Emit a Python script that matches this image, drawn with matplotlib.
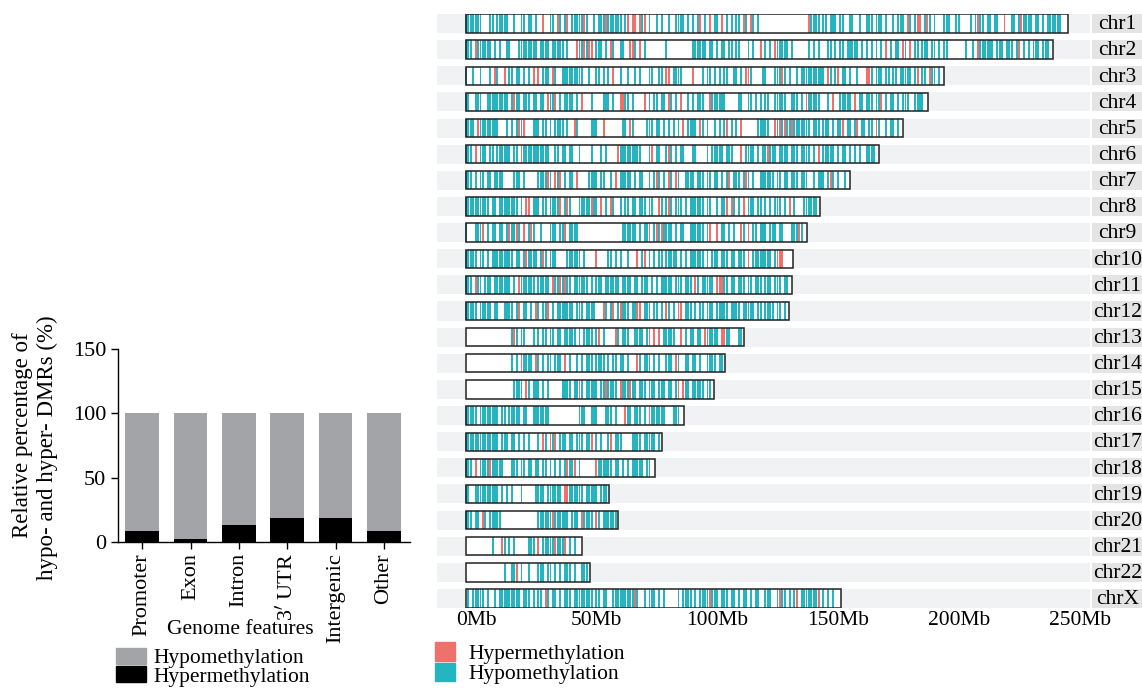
import matplotlib
matplotlib.use("Agg")
import matplotlib.pyplot as plt
import matplotlib.transforms as mtransforms
from matplotlib.patches import Rectangle, Patch

plt.rcParams['font.family'] = ['Liberation Serif', 'DejaVu Serif']
plt.rcParams['font.size'] = 15.5

# ---- left panel data: % of DMRs per genome feature
features = ['Promoter', 'Exon', 'Intron', "3$'$ UTR", 'Intergenic', 'Other']
hyper_pct = [8.3, 2.6, 12.9, 18.6, 18.6, 8.3]
hypo_pct = [100 - v for v in hyper_pct]

# ---- right panel data: chromosome lengths (Mb) and DMR positions (Mb)
chroms = ['chr1', 'chr2', 'chr3', 'chr4', 'chr5', 'chr6', 'chr7', 'chr8', 'chr9', 'chr10',
          'chr11', 'chr12', 'chr13', 'chr14', 'chr15', 'chr16', 'chr17', 'chr18', 'chr19',
          'chr20', 'chr21', 'chr22', 'chrX']
chrom_len = [249.3, 243.2, 198.0, 191.2, 180.9, 171.1, 159.1, 146.4, 141.2, 135.5, 135.0,
             133.9, 115.2, 107.3, 102.5, 90.4, 81.2, 78.1, 59.1, 63.0, 48.1, 51.3, 155.3]

chr1_hypo = [0, 1, 2, 3, 4, 5, 6, 10, 11, 13, 14, 15, 16, 17, 20, 23, 24, 26, 27, 29, 35, 36, 39, 41,
             44, 45, 46, 47, 48, 50, 53, 55, 56, 57, 59, 60, 61, 62, 63, 64, 66, 73, 76, 79, 81, 84,
             87, 88, 89, 90, 92, 94, 96, 99, 103, 104, 108, 110, 112, 113, 116, 119, 121, 143, 144,
             145, 146, 148, 149, 151, 152, 153, 155, 156, 159, 160, 163, 166, 167, 168, 170, 171,
             172, 174, 177, 179, 180, 181, 184, 186, 190, 192, 194, 198, 199, 200, 203, 204, 209,
             211, 213, 214, 216, 217, 219, 220, 226, 227, 229, 231, 232, 233, 234, 236, 237, 239,
             241, 242, 243, 244, 245, 246]
chr1_hyper = [32, 38, 42, 49, 58, 67, 69, 70, 72, 74, 97, 101, 106, 115, 118, 142, 183, 187, 188,
              191, 212, 223, 230]
chr2_hypo = [0, 1, 2, 5, 6, 7, 8, 9, 10, 12, 14, 17, 18, 22, 23, 24, 25, 26, 27, 28, 29, 31, 32, 33,
             34, 36, 37, 38, 39, 40, 42, 47, 48, 50, 54, 55, 56, 58, 61, 64, 65, 70, 74, 83, 94, 95,
             96, 97, 98, 99, 101, 102, 104, 106, 107, 109, 110, 112, 113, 117, 119, 124, 126, 129,
             130, 131, 132, 133, 135, 142, 144, 146, 150, 151, 153, 155, 156, 158, 159, 160, 161,
             162, 164, 166, 168, 170, 172, 176, 178, 179, 182, 186, 187, 189, 190, 191, 193, 194,
             196, 198, 199, 207, 210, 213, 214, 215, 216, 217, 218, 220, 221, 222, 224, 225, 226,
             228, 231, 233, 235, 236, 237, 239, 240, 241]
chr2_hyper = [4, 46, 49, 51, 52, 60, 68, 69, 72, 122, 128, 174, 181, 184, 212, 229]
chr3_hypo = [0, 3, 6, 10, 13, 18, 19, 21, 22, 24, 26, 32, 33, 34, 37, 40, 41, 42, 43, 44, 45, 46,
             47, 48, 51, 54, 55, 57, 59, 64, 67, 70, 72, 76, 77, 80, 81, 86, 87, 88, 89, 98, 100,
             101, 103, 105, 107, 108, 111, 112, 114, 118, 123, 124, 128, 129, 130, 132, 134, 137,
             139, 140, 141, 142, 143, 144, 145, 146, 147, 148, 151, 153, 156, 157, 159, 162, 168,
             170, 171, 172, 174, 175, 177, 178, 180, 181, 182, 183, 184, 186, 189, 190, 193, 194, 196]
chr3_hyper = [12, 16, 28, 30, 36, 61, 83, 84, 94, 116, 117, 131, 150, 154, 166, 167, 187, 192]
chr4_hypo = [0, 1, 4, 5, 6, 9, 10, 11, 12, 13, 14, 15, 16, 17, 19, 21, 22, 24, 25, 26, 28, 29, 31,
             32, 35, 36, 39, 41, 42, 43, 44, 46, 52, 57, 58, 59, 61, 66, 67, 69, 76, 78, 79, 81, 82,
             85, 87, 92, 94, 96, 97, 98, 102, 103, 104, 105, 106, 107, 113, 114, 117, 118, 120, 122,
             124, 125, 128, 129, 130, 131, 132, 135, 136, 137, 139, 142, 143, 144, 145, 146, 150,
             155, 156, 157, 158, 159, 163, 164, 166, 167, 168, 170, 171, 174, 176, 177, 179, 181,
             182, 183, 186, 187, 188, 189]
chr4_hyper = [20, 34, 37, 48, 64, 65, 74, 84, 89, 101, 141, 152, 161, 172]
chr5_hypo = [0, 1, 2, 3, 6, 7, 8, 9, 10, 11, 12, 13, 17, 19, 21, 23, 28, 29, 30, 32, 33, 35, 37, 38,
             39, 40, 42, 46, 52, 53, 54, 65, 66, 69, 75, 76, 77, 79, 80, 82, 84, 86, 88, 92, 93, 94,
             95, 98, 100, 103, 105, 107, 110, 112, 121, 122, 123, 124, 125, 129, 131, 133, 134,
             136, 137, 138, 139, 140, 141, 142, 144, 145, 146, 148, 149, 150, 152, 154, 155, 158,
             159, 161, 164, 165, 167, 168, 171, 174, 176, 177, 179]
chr5_hyper = [5, 22, 24, 45, 57, 68, 90, 97, 108, 114, 128, 130, 132, 135, 156, 162, 170]
chr6_hypo = [0, 1, 2, 4, 6, 7, 8, 10, 11, 13, 14, 15, 16, 17, 18, 20, 21, 24, 25, 26, 27, 28, 29,
             30, 31, 32, 33, 34, 37, 38, 40, 41, 43, 44, 47, 52, 56, 58, 64, 65, 66, 67, 68, 69, 70,
             71, 72, 76, 79, 80, 83, 85, 87, 89, 90, 94, 95, 100, 102, 103, 104, 105, 106, 108, 109,
             110, 116, 117, 118, 119, 121, 123, 124, 126, 127, 128, 130, 131, 132, 133, 135, 136,
             137, 139, 140, 141, 142, 144, 148, 149, 150, 151, 152, 154, 156, 157, 159, 161, 163,
             166, 167, 168, 169]
chr6_hyper = [4, 23, 63, 77, 84, 114, 125, 146]
chr7_hypo = [0, 1, 2, 4, 6, 7, 9, 10, 12, 13, 14, 15, 20, 21, 22, 24, 30, 31, 32, 33, 35, 38, 41, 43,
             44, 51, 52, 53, 54, 56, 57, 60, 64, 65, 66, 67, 68, 70, 72, 73, 76, 78, 80, 82, 85, 88,
             91, 92, 93, 94, 96, 97, 98, 100, 101, 103, 104, 106, 108, 111, 112, 113, 115, 117, 119,
             122, 123, 124, 125, 126, 127, 129, 130, 132, 133, 135, 136, 137, 139, 140, 141, 144,
             146, 147, 148, 150, 152, 154, 157]
chr7_hyper = [34, 37, 39, 46, 62, 79, 84, 87, 109, 116, 151]
chr8_hypo = [0, 1, 2, 3, 4, 5, 6, 7, 8, 9, 11, 12, 14, 15, 16, 17, 18, 19, 20, 21, 23, 26, 28, 29,
             30, 32, 33, 35, 36, 37, 38, 41, 43, 47, 48, 49, 50, 51, 53, 54, 56, 58, 61, 64, 66, 67,
             69, 70, 72, 73, 74, 76, 77, 81, 83, 85, 87, 88, 89, 91, 93, 94, 95, 96, 97, 98, 100,
             101, 104, 106, 107, 111, 113, 115, 117, 118, 119, 121, 122, 124, 126, 128, 129, 130,
             132, 136, 140, 141, 142, 143, 144, 145]
chr8_hyper = [25, 26, 39, 42, 52, 56, 60, 80, 84, 108, 110, 115, 134]
chr9_hypo = [0, 4, 5, 6, 7, 9, 11, 12, 14, 15, 17, 19, 20, 22, 24, 26, 28, 31, 35, 36, 37, 39, 40,
             43, 44, 45, 46, 65, 66, 67, 68, 69, 70, 72, 74, 75, 76, 78, 80, 82, 83, 84, 85, 87, 89,
             90, 93, 94, 95, 96, 97, 98, 100, 106, 107, 109, 111, 115, 117, 119, 120, 122, 123, 124,
             126, 127, 128, 130, 131, 135, 136, 137, 139]
chr9_hyper = [7, 18, 21, 24, 27, 41, 76, 79, 81, 101, 104, 114, 117, 138]
chr10_hypo = [0, 1, 2, 3, 4, 6, 7, 9, 11, 12, 13, 14, 15, 16, 17, 18, 19, 21, 22, 24, 26, 27, 28,
              29, 31, 33, 35, 36, 37, 42, 43, 44, 45, 46, 47, 49, 59, 60, 62, 64, 67, 71, 73, 76,
              78, 80, 81, 83, 84, 85, 86, 87, 89, 91, 93, 94, 95, 96, 97, 98, 100, 102, 103, 104,
              106, 107, 108, 110, 111, 113, 114, 115, 119, 120, 121, 122, 123, 124, 125, 126, 128]
chr10_hyper = [25, 32, 54, 71, 74, 117, 129, 130, 131]
chr11_hypo = [0, 1, 2, 5, 6, 8, 9, 10, 12, 13, 14, 15, 16, 17, 18, 20, 23, 24, 25, 26, 27, 28, 30,
              31, 32, 33, 34, 37, 38, 40, 42, 43, 45, 46, 47, 48, 49, 50, 52, 54, 55, 56, 58, 59,
              60, 61, 62, 63, 65, 66, 67, 68, 70, 71, 73, 74, 75, 77, 79, 81, 82, 83, 84, 85, 87,
              88, 89, 91, 92, 93, 96, 98, 99, 100, 101, 102, 107, 108, 110, 111, 113, 114, 115, 117,
              118, 120, 121, 122, 124, 125, 126, 128, 129, 130, 132, 133]
chr11_hyper = [4, 22, 36, 39, 41, 95, 104, 105, 106]
chr12_hypo = [0, 1, 2, 3, 4, 6, 7, 8, 9, 10, 12, 13, 16, 17, 18, 19, 21, 24, 25, 27, 30, 32, 33,
              36, 38, 39, 40, 41, 42, 43, 44, 46, 47, 48, 50, 51, 52, 53, 58, 60, 63, 65, 66, 67,
              69, 70, 74, 75, 76, 78, 79, 81, 84, 86, 88, 91, 92, 93, 95, 97, 98, 100, 101, 102,
              104, 105, 106, 107, 108, 110, 111, 112, 113, 115, 116, 117, 118, 119, 121, 122, 124,
              125, 126, 127, 129, 130, 132]
chr12_hyper = [22, 29, 34, 57, 61, 64, 71, 72, 83, 88, 89]
chr13_hypo = [19, 21, 23, 24, 28, 30, 32, 33, 35, 36, 38, 39, 41, 42, 43, 44, 45, 47, 49, 50, 51,
              52, 54, 57, 63, 65, 66, 67, 70, 71, 72, 73, 75, 76, 80, 82, 83, 84, 85, 86, 91, 93,
              94, 96, 97, 100, 101, 102, 103, 104, 108, 109, 113, 114]
chr13_hyper = [20, 55, 62, 76, 78, 80, 89, 99, 106, 107]
chr14_hypo = [19, 21, 24, 25, 26, 27, 30, 32, 34, 35, 37, 38, 39, 41, 43, 46, 48, 50, 51, 52, 54,
              55, 56, 57, 59, 61, 62, 64, 65, 67, 72, 74, 75, 76, 78, 80, 83, 84, 85, 88, 91, 92,
              94, 95, 97, 100, 101, 102, 103, 105, 106]
chr14_hyper = [23, 29, 41, 71, 87]
chr15_hypo = [20, 21, 22, 23, 26, 28, 29, 30, 32, 34, 40, 41, 42, 43, 45, 46, 48, 50, 51, 52, 53,
              54, 56, 57, 59, 60, 61, 62, 65, 66, 67, 69, 70, 72, 73, 74, 76, 77, 78, 80, 81, 82,
              84, 85, 87, 88, 91, 92, 94, 95, 96, 97, 98, 100, 101]
chr15_hyper = [25, 47, 58, 64, 68, 88, 90]
chr16_hypo = [0, 1, 2, 3, 4, 6, 7, 8, 9, 10, 11, 12, 13, 15, 16, 18, 19, 20, 21, 22, 24, 25, 28,
              29, 30, 31, 32, 33, 34, 47, 48, 49, 52, 53, 54, 58, 59, 60, 62, 67, 68, 70, 71, 72,
              74, 77, 78, 79, 80, 81, 82, 86, 87, 88]
chr16_hyper = [66, 76]
chr17_hypo = [0, 1, 2, 3, 4, 5, 6, 7, 8, 9, 10, 11, 12, 13, 15, 16, 17, 19, 20, 22, 24, 26, 30, 33,
              36, 39, 40, 41, 43, 44, 46, 47, 48, 50, 51, 54, 56, 59, 62, 63, 64, 69, 70, 71, 72,
              74, 75, 76, 77, 78, 80]
chr17_hyper = [32, 35, 37, 52, 60]
chr18_hypo = [0, 1, 2, 4, 6, 7, 8, 9, 11, 12, 13, 14, 15, 19, 20, 21, 23, 24, 26, 27, 29, 30, 32,
              33, 35, 37, 39, 41, 43, 44, 47, 54, 55, 56, 57, 58, 59, 60, 62, 63, 65, 67, 69, 70,
              71, 72, 73, 75, 76]
chr18_hyper = [4, 10, 42, 45, 54]
chr19_hypo = [0, 1, 4, 5, 6, 7, 8, 9, 10, 11, 12, 13, 15, 17, 19, 23, 29, 30, 31, 32, 34, 35, 36,
              37, 38, 39, 43, 44, 45, 46, 47, 48, 50, 51, 52, 53, 54, 56, 57, 58]
chr19_hyper = [41, 42]
chr20_hypo = [0, 1, 2, 4, 5, 8, 10, 11, 12, 13, 14, 30, 31, 32, 33, 34, 35, 37, 38, 39, 40, 41, 42,
              44, 45, 46, 49, 50, 51, 52, 55, 57, 58, 59, 60, 61, 62]
chr20_hyper = [7, 36, 48, 54]
chr21_hypo = [11, 16, 18, 20, 26, 27, 28, 32, 33, 34, 35, 36, 37, 38, 39, 40, 43, 45]
chr21_hyper = [15, 30, 37, 41]
chr22_hypo = [16, 19, 20, 21, 23, 26, 30, 31, 32, 34, 35, 37, 39, 41, 42, 43, 45, 48, 49, 50]
chr22_hyper = [21]
chrX_hypo = [1, 3, 4, 5, 6, 7, 9, 12, 14, 15, 16, 17, 18, 19, 20, 21, 22, 24, 25, 26, 28, 30, 31,
             34, 36, 37, 39, 41, 42, 43, 45, 46, 47, 48, 49, 50, 51, 52, 54, 55, 57, 58, 61, 62,
             63, 64, 65, 66, 67, 68, 69, 71, 74, 76, 77, 78, 80, 82, 88, 90, 91, 92, 93, 95, 97,
             98, 99, 100, 102, 103, 104, 106, 107, 108, 110, 111, 113, 115, 116, 118, 120, 121,
             124, 125, 126, 129, 131, 132, 134, 136, 139, 140, 141, 142, 143, 144, 145, 146, 148,
             150, 152]
chrX_hyper = [33, 70, 101, 130, 137, 146]

hypo_pos = [chr1_hypo, chr2_hypo, chr3_hypo, chr4_hypo, chr5_hypo, chr6_hypo, chr7_hypo,
            chr8_hypo, chr9_hypo, chr10_hypo, chr11_hypo, chr12_hypo, chr13_hypo, chr14_hypo,
            chr15_hypo, chr16_hypo, chr17_hypo, chr18_hypo, chr19_hypo, chr20_hypo, chr21_hypo,
            chr22_hypo, chrX_hypo]
hyper_pos = [chr1_hyper, chr2_hyper, chr3_hyper, chr4_hyper, chr5_hyper, chr6_hyper, chr7_hyper,
             chr8_hyper, chr9_hyper, chr10_hyper, chr11_hyper, chr12_hyper, chr13_hyper,
             chr14_hyper, chr15_hyper, chr16_hyper, chr17_hyper, chr18_hyper, chr19_hyper,
             chr20_hyper, chr21_hyper, chr22_hyper, chrX_hyper]

mb_ticks = [0, 50, 100, 150, 200, 250]

GRAY = '#a3a4a8'
RED = '#f0716c'
TEAL = '#24b5c0'
W, H = 1142, 690

fig = plt.figure(figsize=(W / 100, H / 100), dpi=100)

# ================= left: stacked bars
axl = fig.add_axes([118 / W, (H - 542) / H, 292 / W, 193 / H])
x = range(len(features))
axl.bar(x, hyper_pct, width=0.7, color='black')
axl.bar(x, hypo_pct, width=0.7, bottom=hyper_pct, color=GRAY)
axl.set_xlim(-0.5, 5.54)
axl.set_ylim(0, 150)
axl.set_yticks([0, 50, 100, 150])
axl.set_xticks(list(x))
axl.set_xticklabels(features, rotation=90)
axl.spines['top'].set_visible(False)
axl.spines['right'].set_visible(False)
for s in ['left', 'bottom']:
    axl.spines[s].set_linewidth(1.0)
axl.tick_params(direction='out', length=5, width=1.0, labelsize=16)
axl.tick_params(axis='x', pad=3)
# two lines of the y title, each centred on its own
fig.text(23 / W, 1 - 435 / H, 'Relative percentage of', rotation=90,
         ha='center', va='center', fontsize=16.5)
fig.text(47 / W, 1 - 448 / H, 'hypo- and hyper- DMRs (%)', rotation=90,
         ha='center', va='center', fontsize=16.5)
fig.text(240 / W, 1 - 630 / H, 'Genome features', ha='center', va='center', fontsize=15.5)
fig.legend(handles=[Patch(color=GRAY, label='Hypomethylation'),
                    Patch(color='black', label='Hypermethylation')],
           loc='upper left', bbox_to_anchor=(116 / W, 1 - 648 / H), frameon=False,
           fontsize=15.5, handlelength=1.4, handleheight=0.75, labelspacing=-0.1,
           handletextpad=0.35, borderpad=0, borderaxespad=0)

# ================= right: chromosome map
axr = fig.add_axes([437 / W, (H - 608) / H, 653 / W, 594 / H])
n = len(chroms)
axr.set_xlim(-12, 258.4)
axr.set_ylim(n - 1 + 0.3635, -0.3635)
for s in axr.spines.values():
    s.set_visible(False)
blend = mtransforms.blended_transform_factory(axr.transAxes, axr.transData)
hh = 0.3635
bh = 0.35
mw = 0.8  # mark width in Mb
for i, name in enumerate(chroms):
    axr.add_patch(Rectangle((0, i - hh), 1, 2 * hh, transform=blend, color='#f1f2f4', lw=0, zorder=0))
    axr.add_patch(Rectangle((1.003, i - hh), 0.077, 2 * hh, transform=blend, color='#e4e4e4',
                            lw=0, clip_on=False, zorder=0))
    axr.text(1.042, i + 0.05, name, transform=blend, ha='center', va='center', fontsize=15.5)
    L = chrom_len[i]
    axr.broken_barh([(0, L)], (i - bh, 2 * bh), facecolor='white', zorder=1)
    axr.broken_barh([(p - mw / 2, mw) for p in hypo_pos[i]], (i - bh, 2 * bh),
                    facecolor=TEAL, zorder=2)
    axr.broken_barh([(p - mw / 2, mw) for p in hyper_pos[i]], (i - bh, 2 * bh),
                    facecolor=RED, zorder=3)
    axr.add_patch(Rectangle((0, i - bh), L, 2 * bh, facecolor='none', edgecolor='#222222',
                            lw=1.1, zorder=4))
axr.set_yticks([])
axr.set_xticks(mb_ticks)
axr.set_xticklabels([f'{t}Mb' for t in mb_ticks])
axr.tick_params(axis='x', length=0, pad=2, labelsize=15.5)
off = mtransforms.ScaledTranslation(10 / 100, 0, fig.dpi_scale_trans)
for lab in axr.get_xticklabels():
    lab.set_transform(lab.get_transform() + off)
fig.legend(handles=[Patch(color=RED, label='Hypermethylation'),
                    Patch(color=TEAL, label='Hypomethylation')],
           loc='upper left', bbox_to_anchor=(435 / W, 1 - 642 / H), frameon=False,
           fontsize=15.5, handlelength=0.95, handleheight=0.95, labelspacing=-0.05,
           handletextpad=0.6, borderpad=0, borderaxespad=0)

fig.savefig('out.png', dpi=100)
